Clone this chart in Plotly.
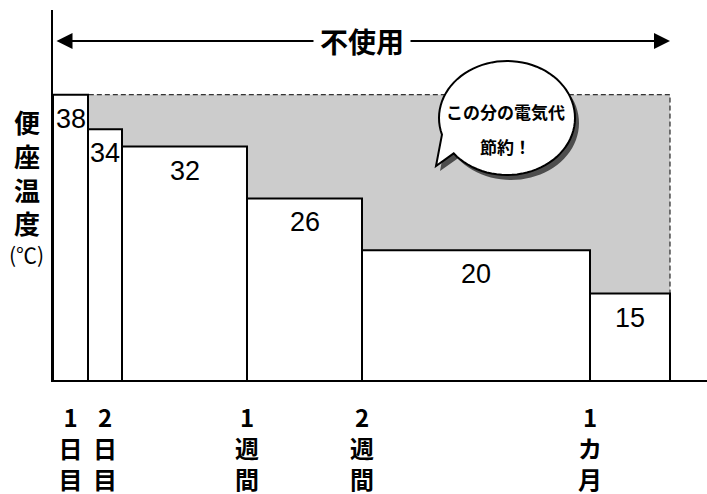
import numpy as np
import plotly.graph_objects as go

# seat temperature (°C) for each period and how wide each period is drawn
temps = [38, 34, 32, 26, 20, 15]
seg_widths = [35, 34, 125, 115, 228, 80]
tick_text = ["1<br>日<br>目", "2<br>日<br>目", "1<br>週<br>間", "2<br>週<br>間", "1<br>カ<br>月"]

JP = "Noto Sans CJK JP"
NUM = "Liberation Sans Narrow, Liberation Sans"

W, H = 707, 494
ML, MT, MB = 53, 10, 114
PW, PH = W - ML, H - MT - MB

edges = np.concatenate([[0], np.cumsum(seg_widths)])
centers = (edges[:-1] + edges[1:]) / 2
tick_vals = [centers[0], centers[1], edges[3], edges[4], edges[5]]

Y_LO, Y_HI = 5.0, 47.8


def paper(px, py):
    return (px - ML) / PW, (H - MB - py) / PH


def bubble_path(cx, cy, rx, ry, a0, a1, tip, dx=0, dy=0):
    t = np.radians(np.linspace(a0, a1, 80))
    pts = [(cx + rx * np.cos(a) + dx, cy + ry * np.sin(a) + dy) for a in t]
    pts.append((tip[0] + dx, tip[1] + dy))
    out = []
    for i, (px, py) in enumerate(pts):
        x, y = paper(px, py)
        out.append(("M" if i == 0 else "L") + f"{x:.5f},{y:.5f}")
    return " ".join(out) + " Z"


fig = go.Figure()

fig.add_trace(go.Bar(
    x=centers,
    y=temps,
    width=seg_widths,
    marker=dict(color="white", line=dict(color="black", width=2)),
    hoverinfo="skip",
))

# gray "saved" area with dashed border, drawn under the bars
fig.add_shape(
    type="rect", layer="below",
    x0=edges[0], x1=edges[-1], y0=min(temps), y1=max(temps),
    fillcolor="#cccccc", line=dict(color="black", width=1, dash="5px,3px"),
)

# values inside bars
for xc, t in zip(centers, temps):
    fig.add_annotation(
        x=xc, y=t, text=str(t), showarrow=False,
        yanchor="top", yshift=-7,
        font=dict(family=NUM, size=27, color="black"),
    )

# double arrow with label
arrow_y = Y_LO + (H - MB - 41) / PH * (Y_HI - Y_LO)
fig.add_annotation(
    x=edges[-1], y=arrow_y, ax=edges[0] + 2, ay=arrow_y,
    xref="x", yref="y", axref="x", ayref="y",
    text="", showarrow=True, arrowhead=2, arrowside="end+start",
    arrowsize=1.6, arrowwidth=2, arrowcolor="black",
)
fig.add_annotation(
    x=(edges[0] + edges[-1]) / 2, y=arrow_y, text="不使用", showarrow=False,
    bgcolor="white", borderpad=6,
    font=dict(family=JP, size=28, color="black", weight="bold"),
)

# speech bubble
cx, cy, rx, ry = 507, 118, 68, 57
tip = (436, 166)
fig.add_shape(type="path", path=bubble_path(cx, cy, rx, ry, 163, 501.6, tip, 4, 5),
              xref="paper", yref="paper", fillcolor="#4d4d4d", line=dict(width=0))
fig.add_shape(type="path", path=bubble_path(cx, cy, rx, ry, 163, 501.6, tip),
              xref="paper", yref="paper", fillcolor="white",
              line=dict(color="black", width=2))
for txt, py in [("この分の電気代", 111), ("節約！", 146)]:
    x, y = paper(cx - 2, py)
    fig.add_annotation(
        x=x, y=y, xref="paper", yref="paper", xanchor="center", yanchor="middle",
        text=txt, showarrow=False,
        font=dict(family=JP, size=17, color="black", weight="bold"),
    )

# y axis title
x, y = paper(27, 101)
fig.add_annotation(
    x=x, y=y, xref="paper", yref="paper", xanchor="center", yanchor="top",
    text="便<br>座<br>温<br>度", showarrow=False,
    font=dict(family=JP, size=26, color="black", weight="bold"),
)
x, y = paper(26, 254)
fig.add_annotation(
    x=x, y=y, xref="paper", yref="paper", xanchor="center", yanchor="middle",
    text="(℃)", showarrow=False,
    font=dict(family=JP, size=21, color="black"),
)

fig.update_layout(
    width=W, height=H,
    margin=dict(l=ML, r=0, t=MT, b=MB),
    plot_bgcolor="white", paper_bgcolor="white",
    showlegend=False,
    xaxis=dict(
        range=[0, PW], showgrid=False, zeroline=False, automargin=False,
        showline=True, linecolor="black", linewidth=2,
        tickvals=tick_vals, ticktext=tick_text, ticks="",
        ticklabelstandoff=16,
        tickfont=dict(family=JP, size=24, color="black", weight="bold"),
    ),
    yaxis=dict(
        range=[Y_LO, Y_HI], showgrid=False, zeroline=False, automargin=False,
        showline=True, linecolor="black", linewidth=2,
        showticklabels=False, ticks="",
    ),
)

fig.write_html(
    "out.html",
    config={"displayModeBar": False},
    post_script="document.body.style.margin='0px';",
)
